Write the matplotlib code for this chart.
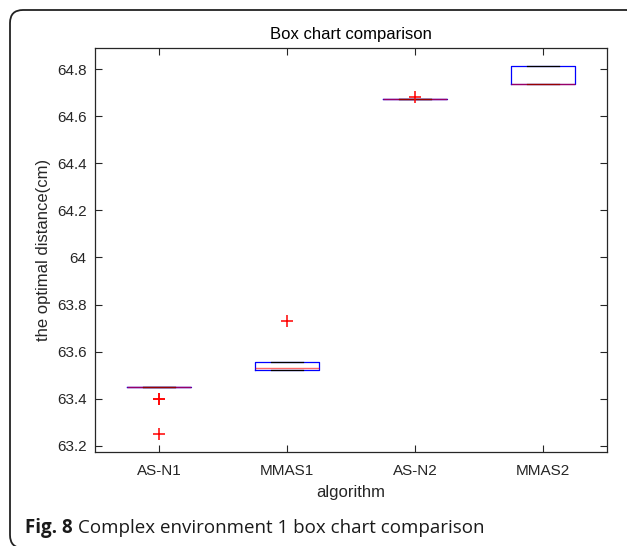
import matplotlib
matplotlib.use("Agg")
from matplotlib import pyplot
from matplotlib.patches import FancyBboxPatch

# box statistics
labels = ["AS-N1", "MMAS1", "AS-N2", "MMAS2"]
q1 = [63.451, 63.524, 64.675, 64.735]
med = [63.451, 63.532, 64.675, 64.735]
q3 = [63.451, 63.555, 64.675, 64.812]
whislo = [63.451, 63.524, 64.675, 64.735]
whishi = [63.451, 63.556, 64.675, 64.815]
fliers = [[63.40, 63.40, 63.25], [63.73], [64.682], []]
yticks = [63.2, 63.4, 63.6, 63.8, 64.0, 64.2, 64.4, 64.6, 64.8]
yticklabels = ["63.2", "63.4", "63.6", "63.8", "64", "64.2", "64.4", "64.6", "64.8"]


def main():
    W, H = 627, 546
    fig = pyplot.figure(figsize=(W / 100, H / 100), dpi=100)
    fig.patch.set_facecolor("white")

    ax = fig.add_axes([95 / W, 1 - 451.7 / H, (607 - 95) / W, (451.7 - 47.7) / H])

    stats = []
    for i in range(len(labels)):
        stats.append(dict(label=labels[i], q1=q1[i], med=med[i], q3=q3[i],
                          whislo=whislo[i], whishi=whishi[i], fliers=fliers[i]))

    ax.bxp(stats, positions=[1, 2, 3, 4], widths=0.5, showfliers=True,
           boxprops=dict(color="blue", linewidth=0.9),
           medianprops=dict(color="red", linewidth=1.0, alpha=0.6),
           whiskerprops=dict(color="black", linewidth=0.8, linestyle="--"),
           capprops=dict(color="black", linewidth=0.9),
           flierprops=dict(marker="+", markeredgecolor="red", markersize=8,
                           markeredgewidth=1.1, linestyle="none"))

    ax.set_xlim(0.5, 4.5)
    ax.set_ylim(63.175, 64.891)
    ax.set_yticks(yticks)
    ax.set_yticklabels(yticklabels)
    ax.set_xticks([1, 2, 3, 4])
    ax.set_xticklabels(labels)

    fam = ["Liberation Sans", "DejaVu Sans"]
    dark = "#262626"
    ax.tick_params(axis="both", direction="in", length=5, width=0.8, colors=dark,
                   labelsize=11, top=True, right=True, pad=6)
    ax.tick_params(axis="x", pad=9)
    for lab in ax.get_xticklabels() + ax.get_yticklabels():
        lab.set_family(fam)
    for sp in ax.spines.values():
        sp.set_color(dark)
        sp.set_linewidth(0.9)

    ax.set_title("Box chart comparison", fontsize=12, family=fam, color="black", pad=6.5)
    ax.set_xlabel("algorithm", fontsize=12, family=fam, color=dark, labelpad=5)
    ax.set_ylabel("the optimal distance(cm)", fontsize=12, family=fam, color=dark, labelpad=4)

    # rounded frame around figure + caption
    frame = FancyBboxPatch((0.10, -0.02), 6.30, 5.38,
                           boxstyle="round,pad=0,rounding_size=0.13",
                           transform=fig.dpi_scale_trans, facecolor="none",
                           edgecolor="#222222", linewidth=1.3)
    fig.add_artist(frame)

    cy = 1 - 533 / H
    cap_fam = ["Open Sans", "DejaVu Sans"]
    t = fig.text(25 / W, cy, "Fig. 8", fontsize=13.5, fontweight="bold",
                 family=cap_fam, va="baseline", color="#1a1a1a")
    fig.canvas.draw()
    bb = t.get_window_extent()
    fig.text((bb.x1 + 5) / W, cy, "Complex environment 1 box chart comparison",
             fontsize=13.5, family=cap_fam, va="baseline", color="#1a1a1a")

    fig.savefig("out.png", dpi=100)
    pyplot.close(fig)


if __name__ == "__main__":
    main()
